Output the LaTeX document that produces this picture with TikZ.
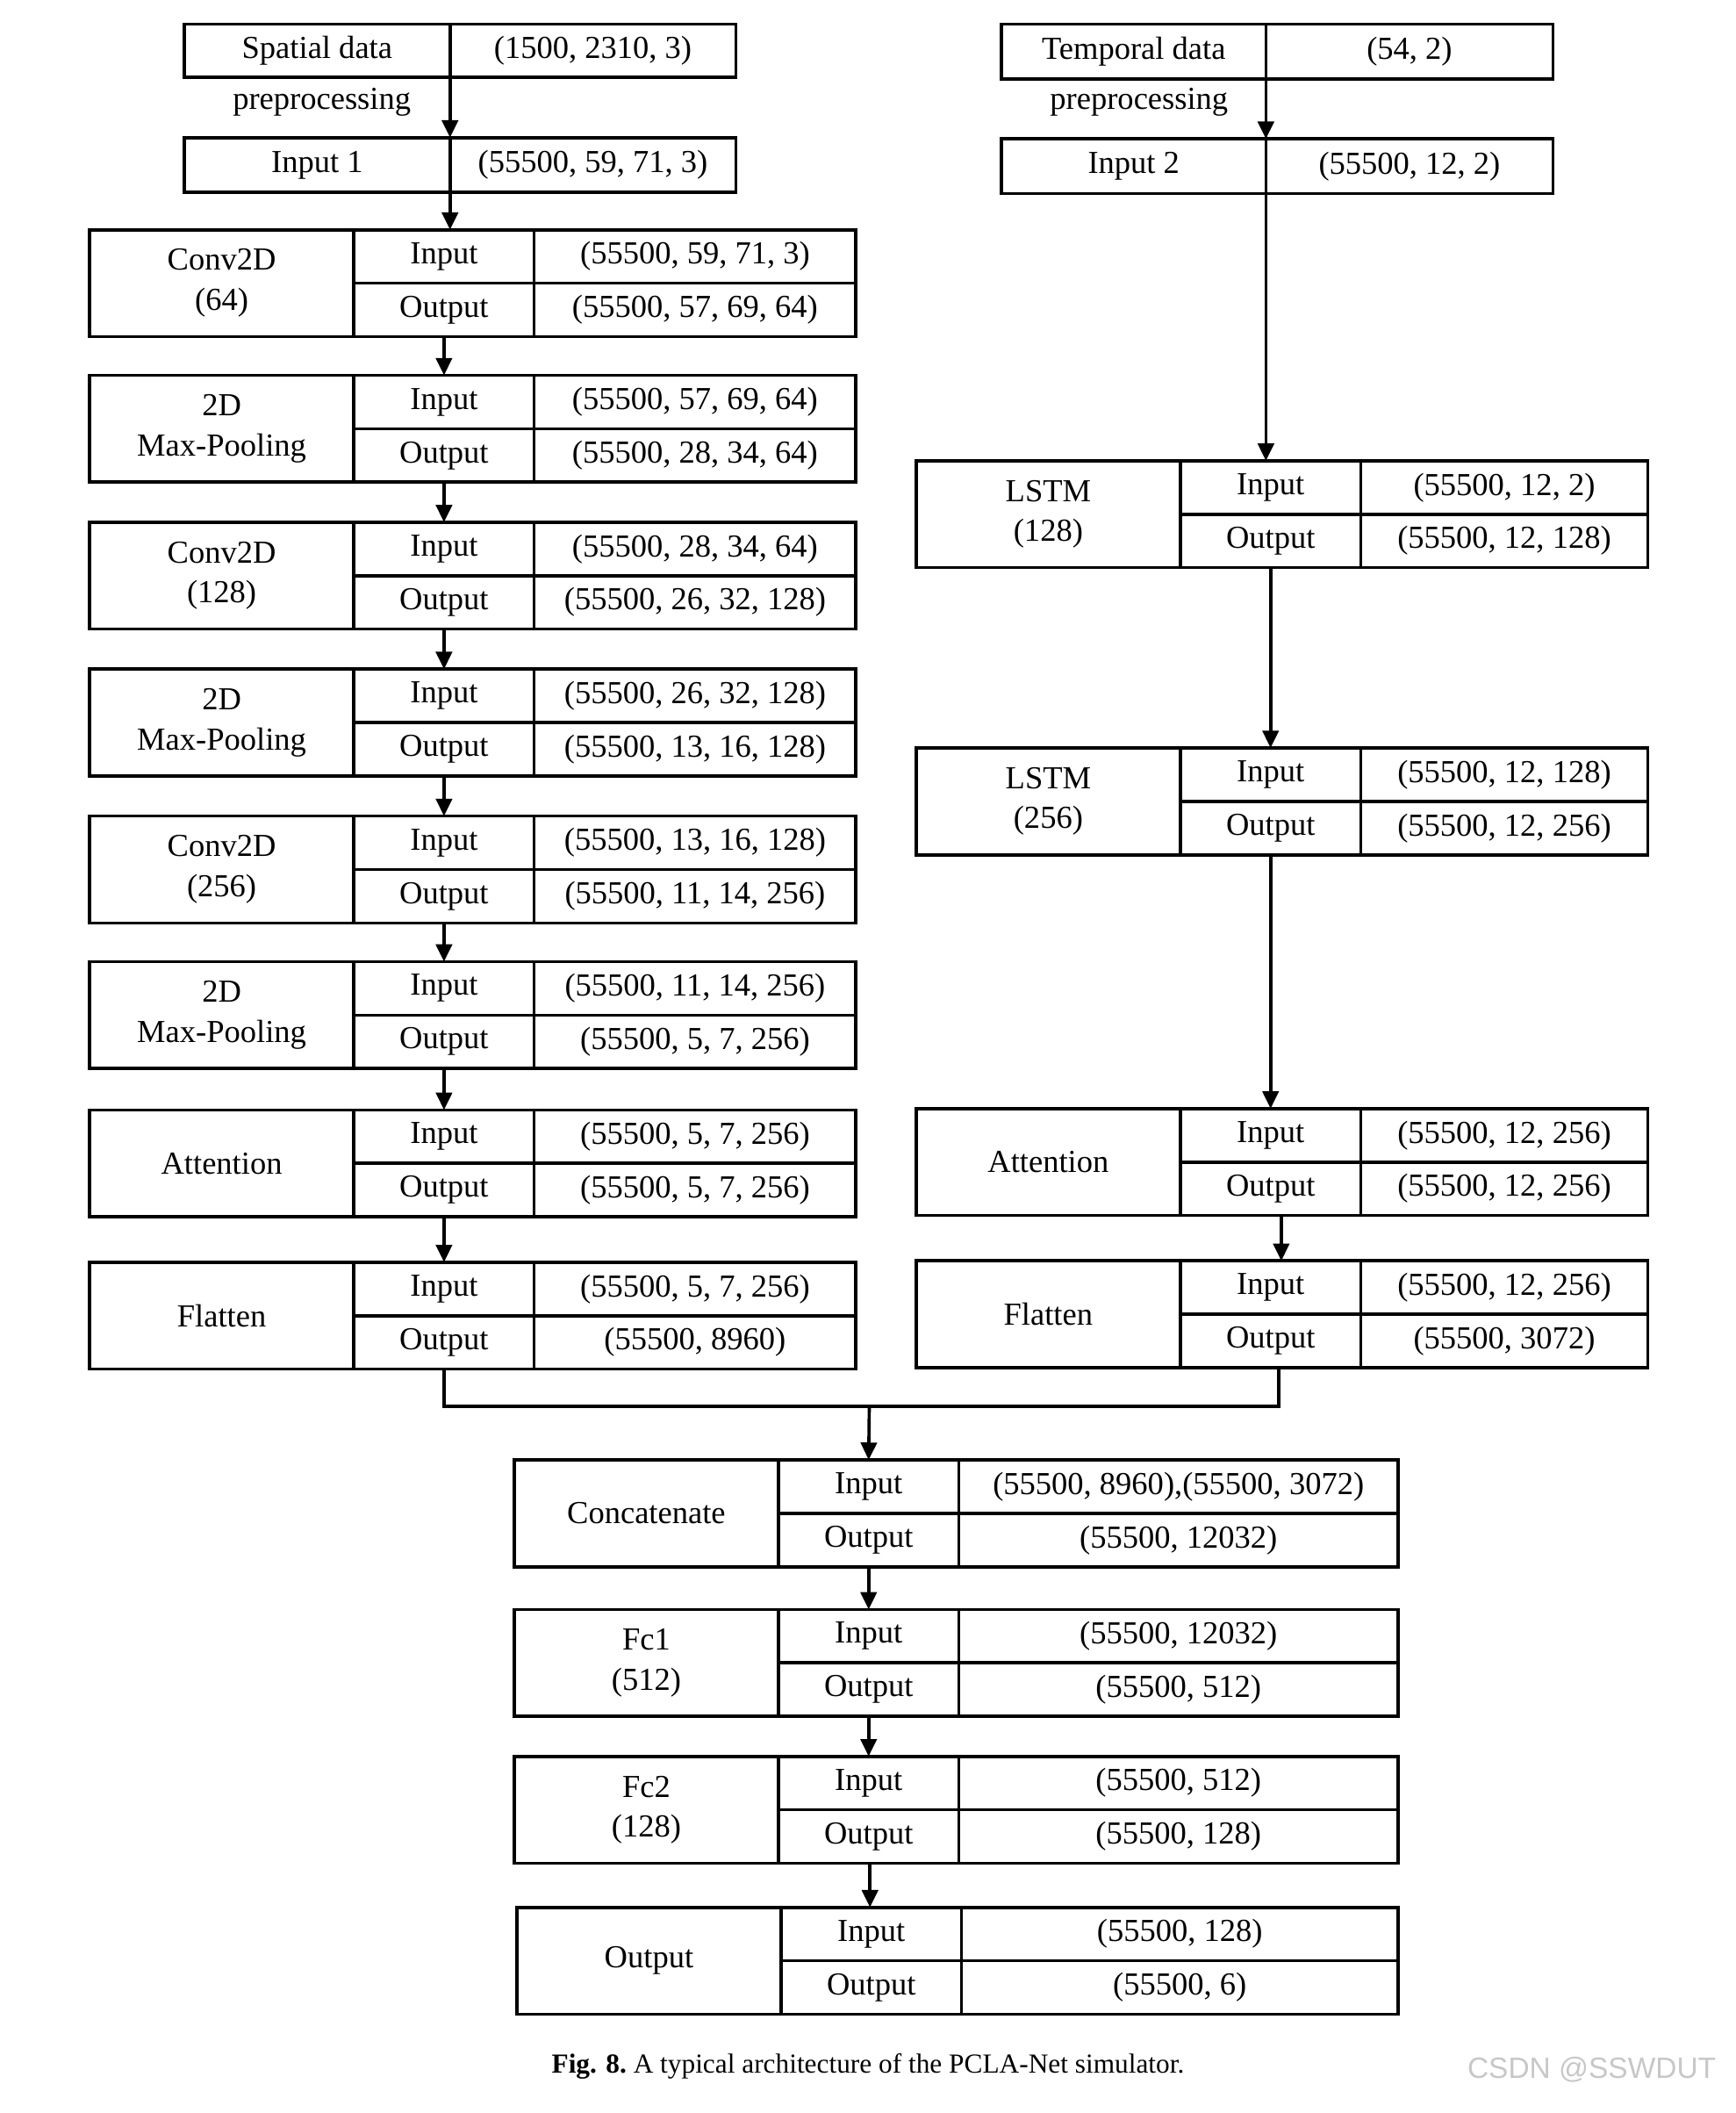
\documentclass[tikz,border=0pt]{standalone}
\usepackage{fontspec}
\setmainfont{Liberation Serif}
\newfontfamily\wmfont{Liberation Sans}
\usetikzlibrary{arrows.meta}

\tikzset{
  txt/.style={font=\fontsize{24}{30}\selectfont},
  cell/.style={txt, draw, line width=2.4pt, inner sep=0pt, outer sep=0pt, anchor=north west, align=center},
  namecell/.style={cell, minimum width=198pt, minimum height=80pt},
  iocell/.style={cell, minimum width=135pt, minimum height=40pt},
  flow/.style={line width=2.4pt, -{Triangle[length=13pt, width=12pt]}},
}

% one layer: name, position, value width, label, input shape, output shape
\newcommand\layerblock[6]{
  \node[namecell] (#1) at (#2) {#4};
  \node[iocell] (#1-in) at (#1.north east) {Input};
  \node[iocell] (#1-out) at (#1-in.south west) {Output};
  \node[iocell, minimum width=#3] (#1-inv) at (#1-in.north east) {#5};
  \node[iocell, minimum width=#3] (#1-outv) at (#1-out.north east) {#6};
}

\begin{document}
\begin{tikzpicture}[x=1pt, y=-1pt]
   \useasboundingbox (0,0) rectangle (1300,1582);

   % spatial branch
   \node[cell, minimum width=199pt, minimum height=40pt] (sd) at (138,18) {Spatial data};
   \node[cell, minimum width=214pt, minimum height=40pt] (sdv) at (sd.north east) {(1500, 2310, 3)};
   \node[txt, anchor=base] (sdpre) at (241,82) {preprocessing};
   \node[cell, minimum width=199pt, minimum height=41pt] (in1) at (138,103) {Input 1};
   \node[cell, minimum width=214pt, minimum height=41pt] (in1v) at (in1.north east) {(55500, 59, 71, 3)};

   \layerblock{c1}{67,172}{241pt}{Conv2D\\(64)}{(55500, 59, 71, 3)}{(55500, 57, 69, 64)}
   \layerblock{p1}{67,281}{241pt}{2D\\Max-Pooling}{(55500, 57, 69, 64)}{(55500, 28, 34, 64)}
   \layerblock{c2}{67,391}{241pt}{Conv2D\\(128)}{(55500, 28, 34, 64)}{(55500, 26, 32, 128)}
   \layerblock{p2}{67,501}{241pt}{2D\\Max-Pooling}{(55500, 26, 32, 128)}{(55500, 13, 16, 128)}
   \layerblock{c3}{67,611}{241pt}{Conv2D\\(256)}{(55500, 13, 16, 128)}{(55500, 11, 14, 256)}
   \layerblock{p3}{67,720}{241pt}{2D\\Max-Pooling}{(55500, 11, 14, 256)}{(55500, 5, 7, 256)}
   \layerblock{att1}{67,831}{241pt}{Attention}{(55500, 5, 7, 256)}{(55500, 5, 7, 256)}
   \layerblock{fl1}{67,945}{241pt}{Flatten}{(55500, 5, 7, 256)}{(55500, 8960)}

   % temporal branch
   \node[cell, minimum width=198pt, minimum height=41pt] (tp) at (750,18) {Temporal data};
   \node[cell, minimum width=215pt, minimum height=41pt] (tpv) at (tp.north east) {(54, 2)};
   \node[txt, anchor=base] (tppre) at (853,82) {preprocessing};
   \node[cell, minimum width=198pt, minimum height=41pt] (in2) at (750,104) {Input 2};
   \node[cell, minimum width=215pt, minimum height=41pt] (in2v) at (in2.north east) {(55500, 12, 2)};

   \layerblock{ls1}{686,345}{215pt}{LSTM\\(128)}{(55500, 12, 2)}{(55500, 12, 128)}
   \layerblock{ls2}{686,560}{215pt}{LSTM\\(256)}{(55500, 12, 128)}{(55500, 12, 256)}
   \layerblock{att2}{686,830}{215pt}{Attention}{(55500, 12, 256)}{(55500, 12, 256)}
   \layerblock{fl2}{686,944}{215pt}{Flatten}{(55500, 12, 256)}{(55500, 3072)}

   % merged part
   \layerblock{cat}{385,1093}{329pt}{Concatenate}{(55500, 8960),(55500, 3072)}{(55500, 12032)}
   \layerblock{fc1}{385,1205}{329pt}{Fc1\\(512)}{(55500, 12032)}{(55500, 512)}
   \layerblock{fc2}{385,1315}{329pt}{Fc2\\(128)}{(55500, 512)}{(55500, 128)}
   \layerblock{outl}{387,1428}{327pt}{Output}{(55500, 128)}{(55500, 6)}

   % connectors
   \draw[flow] (sd.south east) -- (in1.north east);
   \draw[flow] (in1.south east) -- (in1.south east |- c1-in.north);
   \foreach \a/\b in {c1/p1, p1/c2, c2/p2, p2/c3, c3/p3, p3/att1, att1/fl1}
      \draw[flow] (\a-out.south) -- (\b-in.north);

   \draw[flow] (tp.south east) -- (in2.north east);
   \draw[flow] (in2.south east) -- (in2.south east |- ls1-in.north);
   \draw[flow] (ls1-out.south) -- (ls2-in.north);
   \draw[flow] (ls2-out.south) -- (att2-in.north);
   \draw[flow] ([xshift=8pt]att2-out.south) -- ([xshift=8pt]fl2-in.north);

   \coordinate (mrg) at (651,1053);
   \draw[line width=2.4pt] (fl1-out.south) |- (mrg) -| ([xshift=6pt]fl2-out.south);
   \draw[flow] (mrg) -- (cat-in.north);
   \foreach \a/\b in {cat/fc1, fc1/fc2}
      \draw[flow] (\a-out.south) -- (\b-in.north);
   \draw[flow] ([xshift=1pt]fc2-out.south) -- ([xshift=1pt]fc2-out.south |- outl-in.north);

   % caption
   \node[anchor=base, font=\fontsize{20.6}{24}\selectfont] (cap) at (650,1552)
      {\textbf{Fig. 8.}\ A typical architecture of the PCLA-Net simulator.};
   \node[anchor=base, text=black!22, font=\wmfont\fontsize{22}{26}\selectfont] (wm) at (1192,1556) {CSDN @SSWDUT};
\end{tikzpicture}
\end{document}
